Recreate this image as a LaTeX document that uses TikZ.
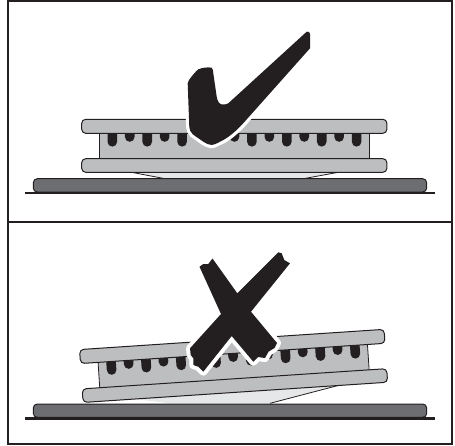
\documentclass[tikz,border=0pt]{standalone}
\definecolor{ink}{HTML}{231F20}
\definecolor{plategray}{HTML}{BCBEC0}
\definecolor{basegray}{HTML}{6D6E71}
\definecolor{wedgegray}{HTML}{E6E7E8}
\tikzset{
  frameline/.style={draw=ink,line width=1.7pt},
  plate/.style={fill=plategray,draw=ink,line width=1pt,rounded corners=4pt},
  baseplate/.style={fill=basegray,draw=ink,line width=1pt,rounded corners=4pt},
  groundline/.style={draw=ink,line width=2.4pt},
  wedge/.style={fill=wedgegray,draw=none},
  wedgeline/.style={draw=ink,line width=0.8pt},
  halo/.style={preaction={draw=white,line width=#1,line join=round},fill=ink},
}
% two plates, the block between them and its teeth; origin in the middle
\newcommand{\pressbody}{
  \fill[plategray] (-135,-14) rectangle (135,14);
  \draw[ink,line width=0.8pt] (-135,-14) -- (-135,14) (135,-14) -- (135,14);
  \foreach \i in {0,...,14}{
    \pgfmathsetmacro\xx{-122+\i*17.45}
    \pgfmathsetmacro\yy{ifthenelse(mod(\i,2)==0,-4.2,-9)}
    \fill[ink] (\xx-4.8,-14) -- (\xx-4.8,\yy) arc[start angle=180,end angle=360,radius=4.8pt] -- (\xx+4.8,-14) -- cycle;
  }
  \draw[plate] (-152.6,-26.7) rectangle (152.6,-12.7);
  \draw[plate] (-152.6,12.7) rectangle (152.6,26.3);
}
\begin{document}
\begin{tikzpicture}[x=1pt,y=-1pt]
  \useasboundingbox (0,0) rectangle (455,445);
  % frame
  \draw[frameline] (8,0.7) rectangle (452,444);
  \draw[frameline] (8,222) -- (452,222);

  % top: flat
  \fill[wedge] (130,172) -- (165,178.7) -- (303.3,178.7) -- (340,172) -- cycle;
  \draw[wedgeline] (130,172) -- (165,178.7) (303.3,178.7) -- (340,172);
  \draw[baseplate] (33.3,178.7) rectangle (426.7,192);
  \draw[groundline] (25,193) -- (435,193);
  \begin{scope}[shift={(234.3,146)}]
    \pressbody
  \end{scope}
  \path[halo=6.5pt] (189,80) .. controls (192,76) and (195,72) .. (198.3,69.3)
    .. controls (203,67.5) and (208,67) .. (211.7,67.7)
    .. controls (213,69) and (213.2,71) .. (213.3,73.3)
    -- (216.7,96.7) .. controls (217.5,101) and (219,104) .. (222,104.5)
    .. controls (224,104.8) and (226,104.5) .. (228.3,103.3)
    -- (306.7,31.7) .. controls (308.5,31) and (310,32) .. (310,34)
    -- (310,48.3) -- (241.7,125)
    .. controls (233,134) and (226,139) .. (220,141.7)
    .. controls (216,144) and (213,145) .. (211.7,145)
    .. controls (209,145) and (206,143.5) .. (203.3,141.7)
    -- (193,134.5) .. controls (190.5,132) and (189.5,130) .. (189.3,127)
    -- (187.7,83.3) -- cycle;

  % bottom: tilted
  \fill[wedge] (135,399) -- (170,403.3) -- (270,403.3) -- (340,385) -- cycle;
  \draw[wedgeline] (270,403.3) -- (340,385);
  \draw[baseplate] (33.3,404) rectangle (426.7,417.3);
  \draw[groundline] (25,418.3) -- (435,418.3);
  \begin{scope}[shift={(233.6,366.1)},rotate=3.8]
    \pressbody
  \end{scope}
  \path[halo=8pt] (199.5,266.7) -- (203.3,264) -- (208.3,264) -- (212.5,258.5)
    -- (237.3,293.3) -- (278.3,252.3) -- (281.7,253.3) -- (284.3,260) -- (290,263.3)
    -- (251,311.7) -- (277,343) -- (274.5,348) -- (268.5,351.7) -- (265,358)
    -- (258,357) -- (253.3,361.7) -- (231.7,336) -- (203.3,371.7) -- (198.3,366.7)
    -- (193.3,365) -- (193.3,358.3) -- (190.7,355) -- (190,348.3) -- (221,314) -- cycle;
\end{tikzpicture}
\end{document}
